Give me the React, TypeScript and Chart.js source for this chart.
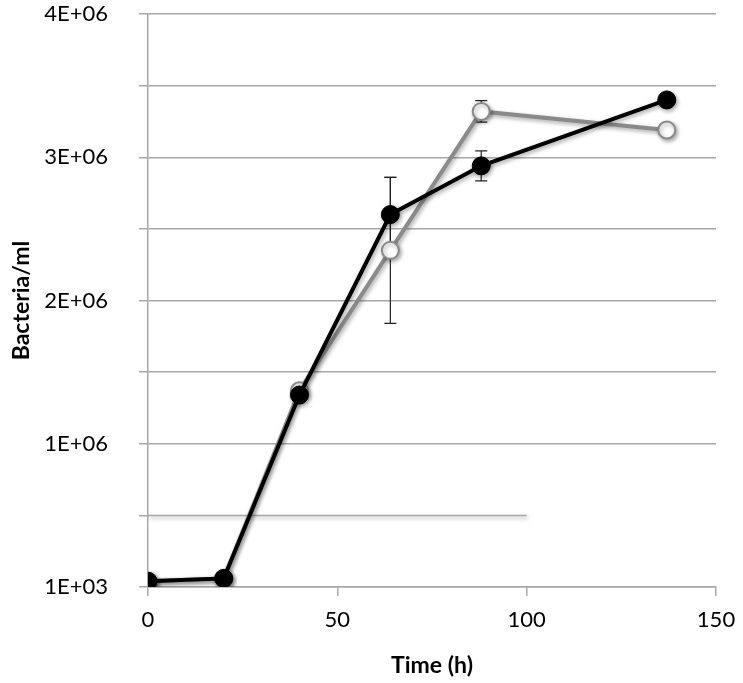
import React, { useEffect, useRef } from "react";
import { Chart, registerables } from "chart.js";

Chart.register(...registerables);

// ---- data ----
const timeHours = [0, 20, 40, 64, 88, 137];
const filledSeries = [0.04, 0.06, 1.34, 2.6, 2.94, 3.4];
const filledErrors = [0, 0, 0, 0.26, 0.105, 0];
const openSeries = [0.04, 0.06, 1.37, 2.35, 3.32, 3.19];
const openErrors = [0, 0, 0, 0.51, 0.075, 0];

const yTickValues = [0, 1, 2, 3, 4];
const yTickLabels = ["1E+03", "1E+06", "2E+06", "3E+06", "4E+06"];
const xTickValues = [0, 50, 100, 150];

const partialGridValue = 0.5;
const partialGridRange = [0, 100];

const FONT = "Lato, 'Open Sans', sans-serif";
const GRID = "#a8a8a8";

const errorBarPlugin = {
  id: "errorBarsAndShadow",
  beforeDatasetsDraw(chart: any) {
    const ctx = chart.ctx;
    const xs = chart.scales.x;
    const ys = chart.scales.y;
    const sets = [
      { v: filledSeries, e: filledErrors },
      { v: openSeries, e: openErrors },
    ];
    ctx.save();
    ctx.strokeStyle = "#222";
    ctx.lineWidth = 1.2;
    sets.forEach((s) => {
      s.v.forEach((val, i) => {
        const err = s.e[i];
        if (!err) return;
        const x = xs.getPixelForValue(timeHours[i]);
        const yTop = ys.getPixelForValue(val + err);
        const yBot = ys.getPixelForValue(val - err);
        ctx.beginPath();
        ctx.moveTo(x, yTop);
        ctx.lineTo(x, yBot);
        ctx.moveTo(x - 6, yTop);
        ctx.lineTo(x + 6, yTop);
        ctx.moveTo(x - 6, yBot);
        ctx.lineTo(x + 6, yBot);
        ctx.stroke();
      });
    });
    ctx.restore();
    ctx.save();
    ctx.shadowColor = "rgba(0,0,0,0.35)";
    ctx.shadowBlur = 4;
    ctx.shadowOffsetX = 1.5;
    ctx.shadowOffsetY = 2;
  },
  afterDatasetsDraw(chart: any) {
    chart.ctx.restore();
  },
};

export default function App() {
  const ref = useRef<HTMLCanvasElement | null>(null);

  useEffect(() => {
    if (!ref.current) return;
    const chart = new Chart(ref.current, {
      type: "line",
      data: {
        datasets: [
          {
            label: "filled",
            data: timeHours.map((t, i) => ({ x: t, y: filledSeries[i] })),
            borderColor: "#000",
            backgroundColor: "#000",
            borderWidth: 4,
            pointRadius: 9,
            pointBorderWidth: 1,
            pointBorderColor: "#000",
            pointBackgroundColor: "#000",
            tension: 0,
          },
          {
            label: "open",
            data: timeHours.map((t, i) => ({ x: t, y: openSeries[i] })),
            borderColor: "#8a8a8a",
            backgroundColor: "#fff",
            borderWidth: 4,
            pointRadius: 8.5,
            pointBorderWidth: 2,
            pointBorderColor: "#8a8a8a",
            pointBackgroundColor: "#fff",
            tension: 0,
          },
          {
            label: "partialGrid",
            data: partialGridRange.map((x) => ({ x, y: partialGridValue })),
            borderColor: GRID,
            borderWidth: 1.5,
            pointRadius: 0,
            order: 10,
          },
        ],
      },
      options: {
        animation: false,
        responsive: false,
        events: [],
        layout: { padding: { top: 14, right: 27, left: 0, bottom: 0 } },
        plugins: {
          legend: { display: false },
          tooltip: { enabled: false },
        },
        scales: {
          x: {
            type: "linear",
            min: 0,
            max: 150,
            afterBuildTicks: (s: any) => {
              s.ticks = xTickValues.map((v) => ({ value: v }));
            },
            afterFit: (s: any) => {
              s.height = 96;
              s.paddingLeft = 0;
              s.paddingRight = 0;
            },
            grid: {
              drawOnChartArea: false,
              drawTicks: true,
              tickLength: 9,
              tickColor: GRID,
              lineWidth: 1.5,
            },
            border: { display: true, color: GRID, width: 1.5 },
            ticks: {
              padding: 11,
              color: "#000",
              font: { family: FONT, size: 22 },
              maxRotation: 0,
            },
            title: {
              display: true,
              text: "Time (h)",
              color: "#000",
              font: { family: FONT, size: 23, weight: "bold" },
              padding: { top: 0, bottom: 4 },
            },
          },
          y: {
            type: "linear",
            min: 0,
            max: 4,
            afterBuildTicks: (s: any) => {
              const arr: any[] = [];
              for (let v = 0; v <= 4.0001; v += 0.5) arr.push({ value: v });
              s.ticks = arr;
            },
            afterFit: (s: any) => {
              s.width = 148;
              s.paddingTop = 0;
              s.paddingBottom = 0;
            },
            grid: {
              color: (c: any) =>
                c.tick && Math.abs(c.tick.value - partialGridValue) < 1e-6 ? "rgba(0,0,0,0)" : GRID,
              tickColor: GRID,
              lineWidth: 1.5,
              tickLength: 9,
            },
            border: { display: true, color: GRID, width: 1.5 },
            ticks: {
              padding: 31,
              color: "#000",
              font: { family: FONT, size: 22 },
              callback: (v: any) => {
                const idx = yTickValues.indexOf(Number(v));
                return idx >= 0 ? yTickLabels[idx] : "";
              },
            },
            title: {
              display: true,
              text: "Bacteria/ml",
              color: "#000",
              font: { family: FONT, size: 23, weight: "bold" },
              padding: { top: 8, bottom: 0 },
            },
          },
        },
      },
      plugins: [errorBarPlugin],
    } as any);
    return () => chart.destroy();
  }, []);

  return (
    <div style={{ position: "absolute", left: 0, top: 0, width: 743, height: 683, background: "#fff" }}>
      <canvas ref={ref} width={743} height={683} />
    </div>
  );
}
